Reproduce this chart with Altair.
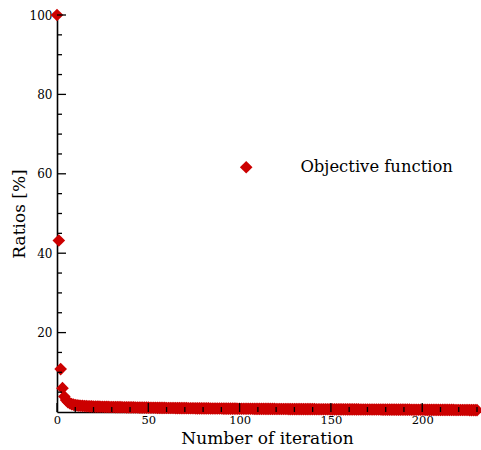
import altair as alt
import pandas as pd

# Objective function ratio [%] for each optimisation iteration (iteration 0 .. 230)
ratios = [
    100.0, 43.2, 10.8, 6.0, 3.9, 3.0, 2.5, 2.2, 2.0, 1.85,
    1.75, 1.68, 1.62, 1.57, 1.53, 1.50, 1.47, 1.45, 1.43, 1.41,
    1.39, 1.37, 1.36, 1.34, 1.33, 1.31, 1.30, 1.29, 1.28, 1.27,
    1.26, 1.25, 1.24, 1.23, 1.22, 1.21, 1.20, 1.19, 1.18, 1.17,
    1.16, 1.15, 1.15, 1.14, 1.13, 1.12, 1.12, 1.11, 1.10, 1.09,
    1.09, 1.08, 1.07, 1.07, 1.06, 1.05, 1.05, 1.04, 1.03, 1.03,
    1.02, 1.01, 1.01, 1.00, 1.00, 0.99, 0.98, 0.98, 0.97, 0.97,
    0.96, 0.96, 0.95, 0.95, 0.94, 0.94, 0.93, 0.93, 0.92, 0.92,
    0.91, 0.91, 0.90, 0.90, 0.89, 0.89, 0.88, 0.88, 0.88, 0.87,
    0.87, 0.86, 0.86, 0.86, 0.85, 0.85, 0.84, 0.84, 0.84, 0.83,
    0.83, 0.83, 0.82, 0.82, 0.82, 0.81, 0.81, 0.81, 0.80, 0.80,
    0.80, 0.79, 0.79, 0.79, 0.78, 0.78, 0.78, 0.77, 0.77, 0.77,
    0.76, 0.76, 0.76, 0.76, 0.75, 0.75, 0.75, 0.74, 0.74, 0.74,
    0.74, 0.73, 0.73, 0.73, 0.72, 0.72, 0.72, 0.72, 0.71, 0.71,
    0.71, 0.71, 0.70, 0.70, 0.70, 0.70, 0.69, 0.69, 0.69, 0.69,
    0.68, 0.68, 0.68, 0.68, 0.67, 0.67, 0.67, 0.67, 0.66, 0.66,
    0.66, 0.66, 0.65, 0.65, 0.65, 0.65, 0.64, 0.64, 0.64, 0.64,
    0.63, 0.63, 0.63, 0.63, 0.62, 0.62, 0.62, 0.62, 0.61, 0.61,
    0.61, 0.61, 0.60, 0.60, 0.60, 0.60, 0.59, 0.59, 0.59, 0.59,
    0.58, 0.58, 0.58, 0.58, 0.57, 0.57, 0.57, 0.57, 0.56, 0.56,
    0.56, 0.56, 0.55, 0.55, 0.55, 0.55, 0.54, 0.54, 0.54, 0.54,
    0.53, 0.53, 0.53, 0.53, 0.52, 0.52, 0.52, 0.52, 0.51, 0.51,
    0.51, 0.51, 0.50, 0.50, 0.50, 0.50, 0.49, 0.49, 0.49, 0.49,
    0.48,
]
iterations = list(range(len(ratios)))
series_name = "Objective function"

# Axis tick positions (ticks point into the plot)
x_major = [0, 50, 100, 150, 200]
x_minor = [10, 20, 30, 40, 60, 70, 80, 90, 110, 120, 130, 140,
           160, 170, 180, 190, 210, 220, 230]
y_major = [20, 40, 60, 80, 100]
y_minor = [5, 10, 15, 25, 30, 35, 45, 50, 55, 65, 70, 75, 85, 90, 95]

W, H = 420, 397
FONT = "DejaVu Serif"
RED = "#cc0000"
SYM = 160

points_df = pd.DataFrame({"it": iterations, "ratio": ratios, "series": series_name})

x_scale = alt.Scale(domain=[0, 230], nice=False, zero=False)
y_scale = alt.Scale(domain=[0, 100], nice=False)

x_axis = alt.Axis(title="Number of iteration", values=x_major,
                  ticks=False, grid=False, labelPadding=2, labelFlush=False,
                  labelFontSize=11.5, titleBaseline="alphabetic", titleY=31)
y_axis = alt.Axis(title="Ratios [%]", values=y_major,
                  ticks=False, grid=False, labelPadding=5, labelFlush=False,
                  titlePadding=1)

points = alt.Chart(points_df).mark_point(
    shape="diamond", filled=True, opacity=1, size=SYM, clip=False
).encode(
    x=alt.X("it:Q", scale=x_scale, axis=x_axis),
    y=alt.Y("ratio:Q", scale=y_scale, axis=y_axis),
    color=alt.Color("series:N",
                    scale=alt.Scale(domain=[series_name], range=[RED]),
                    legend=alt.Legend(title=None, orient="none",
                                      legendX=181, legendY=144,
                                      symbolType="diamond", symbolSize=SYM,
                                      symbolStrokeWidth=0,
                                      labelOffset=46, labelFont=FONT,
                                      labelFontSize=16.4, labelColor="black",
                                      padding=0)),
)

def x_ticks(vals, length):
    df = pd.DataFrame({"it": vals})
    return alt.Chart(df).mark_rule(color="black", strokeWidth=1.3).encode(
        x=alt.X("it:Q", scale=x_scale, axis=x_axis),
        y=alt.value(H),
        y2=alt.value(H - length),
    )

def y_ticks(vals, length):
    df = pd.DataFrame({"ratio": vals})
    return alt.Chart(df).mark_rule(color="black", strokeWidth=1.3).encode(
        y=alt.Y("ratio:Q", scale=y_scale, axis=y_axis),
        x=alt.value(0),
        x2=alt.value(length),
    )

chart = alt.layer(
    points,
    x_ticks(x_major, 9), x_ticks(x_minor, 5),
    y_ticks(y_major, 9), y_ticks(y_minor, 5),
).properties(
    width=W, height=H,
    autosize=alt.AutoSizeParams(type="none"),
    padding={"left": 57, "top": 15, "right": 4, "bottom": 38},
).configure_view(
    stroke=None
).configure_axis(
    domainColor="black", domainWidth=1.6, zindex=1,
    labelFont=FONT, labelFontSize=12, labelColor="black",
    titleFont=FONT, titleFontSize=17, titleFontWeight="normal",
    titleColor="black",
)

chart.save("out.html", embed_options={"renderer": "svg", "actions": False})
